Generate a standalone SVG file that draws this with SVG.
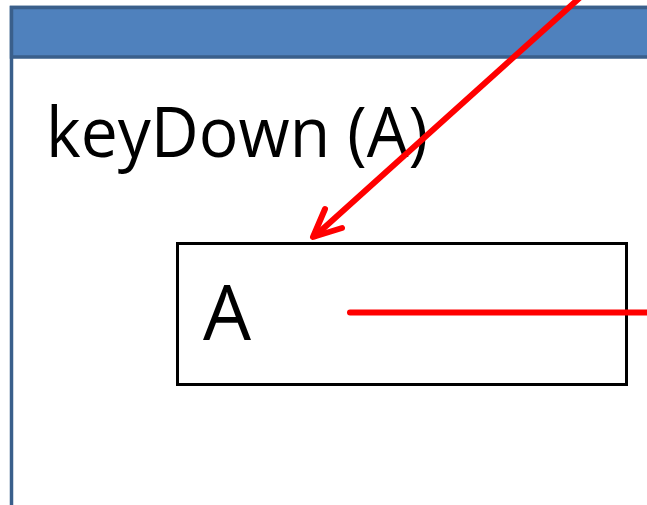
<svg xmlns="http://www.w3.org/2000/svg" width="647" height="505" viewBox="0 0 647 505">
<style>
.lbl{font-family:"Open Sans","Liberation Sans",sans-serif;fill:#000}
.red{stroke:#ff0000;stroke-width:6;fill:none;stroke-linecap:round;stroke-linejoin:round}
</style>
<rect width="647" height="505" fill="#fff"/>
<g id="window">
<rect x="11.5" y="7.5" width="700" height="560" fill="#fff" stroke="#3a5f8b" stroke-width="3.5"/>
<rect x="11.5" y="7.5" width="700" height="49.5" fill="#4f81bd" stroke="#3a5f8b" stroke-width="3.5"/>
<text class="lbl" x="46" y="157" font-size="69" textLength="382" lengthAdjust="spacingAndGlyphs">keyDown (A)</text>
</g>
<g id="box">
<rect x="177.5" y="243.5" width="449" height="141" fill="#fff" stroke="#000" stroke-width="3"/>
<text class="lbl" x="203" y="340" font-size="76">A</text>
</g>
<g id="connectors">
<line class="red" x1="350" y1="312.5" x2="660" y2="312.5" stroke-linecap="butt"/>
<line class="red" x1="585" y1="-7" x2="315" y2="236"/>
<polyline class="red" points="325,209 313,237 342,228"/>
</g>
</svg>
